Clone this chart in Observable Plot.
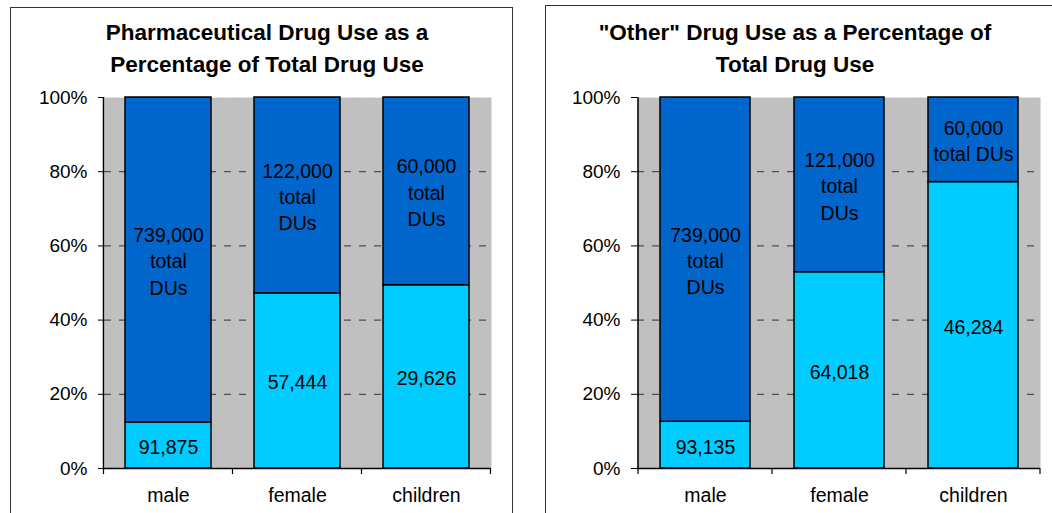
<!DOCTYPE html>
<html><head><meta charset="utf-8">
<script src="https://cdn.jsdelivr.net/npm/d3@7"></script>
<script src="https://cdn.jsdelivr.net/npm/@observablehq/plot@0.6"></script>
<style>
body{margin:0;background:#fff;width:1052px;height:513px;overflow:hidden;position:relative;font-family:"Liberation Sans",Arial,sans-serif;}
.frame{position:absolute;border:1.5px solid #333;box-sizing:border-box;}
.title{position:absolute;font-weight:bold;font-size:22.5px;line-height:32px;text-align:center;white-space:nowrap;transform:translateX(-50%);color:#000;}
.chart{position:absolute;top:0;}
</style></head><body>
<div class="frame" style="left:10px;top:7px;width:503px;height:600px;"></div>
<div class="frame" style="left:545px;top:5px;width:600px;height:600px;"></div>
<div class="title" style="left:267px;top:17px;">Pharmaceutical Drug Use as a<br>Percentage of Total Drug Use</div>
<div class="title" style="left:795px;top:17px;">"Other" Drug Use as a Percentage of<br>Total Drug Use</div>
<div id="left" class="chart" style="left:0px;"></div>
<div id="right" class="chart" style="left:530px;"></div>
<script>
const categories = ["male", "female", "children"];
const yTicks = [0, 20, 40, 60, 80, 100];
const gridTicks = [20, 40, 60, 80];

// Pharmaceutical panel: share (%) of the light (drug) part
const pharmaShare = [12.4, 47.2, 49.4];
const pharmaCountLabels = ["91,875", "57,444", "29,626"];
const pharmaTotalLabels = ["739,000\ntotal\nDUs", "122,000\ntotal\nDUs", "60,000\ntotal\nDUs"];

// "Other" panel
const otherShare = [12.6, 52.9, 77.2];
const otherCountLabels = ["93,135", "64,018", "46,284"];
const otherTotalLabels = ["739,000\ntotal\nDUs", "121,000\ntotal\nDUs", "60,000\ntotal DUs"];

const parts = ["light", "dark"];
const colors = ["#00CCFF", "#0066CC"];

function panel(el, shares, countLabels, totalLabels, width, marginLeft, marginRight) {
  const rows = categories.flatMap((c, i) => [
    {cat: c, part: "light", value: shares[i], label: countLabels[i]},
    {cat: c, part: "dark", value: 100 - shares[i], label: totalLabels[i]}
  ]);
  const chart = Plot.plot({
    width, height: 513, marginLeft, marginRight, marginTop: 97, marginBottom: 45,
    style: {fontFamily: "Liberation Sans, Arial, sans-serif", fontSize: "19px", color: "#000", background: "transparent", overflow: "visible"},
    x: {domain: categories, paddingInner: 0.33, paddingOuter: 0.165, label: null},
    y: {domain: [0, 100], label: null},
    color: {domain: parts, range: colors},
    marks: [
      Plot.frame({fill: "#C0C0C0", stroke: "none"}),
      Plot.gridY(gridTicks, {stroke: "#333", strokeOpacity: 1, strokeDasharray: "7,8", strokeWidth: 1}),
      Plot.gridY([100], {stroke: "#e6e6e6", strokeOpacity: 1, strokeDasharray: "7,8", strokeWidth: 1}),
      Plot.barY(rows, Plot.stackY({x: "cat", y: "value", fill: "part", order: parts, stroke: "#000", strokeWidth: 1.5})),
      Plot.text(rows, Plot.stackY({x: "cat", y: "value", z: "part", order: parts, text: "label", fontSize: 19.5, lineHeight: 1.35, fill: "#000"})),
      Plot.axisY({ticks: yTicks, tickFormat: d => d + "%", tickSize: 6, tickPadding: 11, fontSize: 19, label: null}),
      Plot.axisX({tickSize: 0, tickPadding: 20, fontSize: 19.5, label: null}),
      Plot.ruleY([0], {stroke: "#000", strokeWidth: 1.5})
    ]
  });
  // category-boundary ticks and left axis line, from the plot's own scales
  const sx = chart.scale("x"), sy = chart.scale("y");
  const y0 = sy.apply(0), y100 = sy.apply(100);
  const gap = sx.step - sx.bandwidth;
  const bounds = categories.map(c => sx.apply(c) - gap / 2);
  bounds.push(sx.apply(categories[categories.length - 1]) + sx.bandwidth + gap / 2);
  const svg = d3.select(chart);
  svg.append("g").selectAll("line").data(bounds).join("line")
    .attr("x1", d => d).attr("x2", d => d).attr("y1", y0).attr("y2", y0 + 6)
    .attr("stroke", "#000").attr("stroke-width", 1.2);
  svg.append("line").attr("x1", bounds[0]).attr("x2", bounds[0]).attr("y1", y100).attr("y2", y0)
    .attr("stroke", "#000").attr("stroke-width", 1.5);
  document.getElementById(el).append(chart);
}

panel("left", pharmaShare, pharmaCountLabels, pharmaTotalLabels, 530, 104, 39);
panel("right", otherShare, otherCountLabels, otherTotalLabels, 522, 107, 12);
</script>
</body></html>
